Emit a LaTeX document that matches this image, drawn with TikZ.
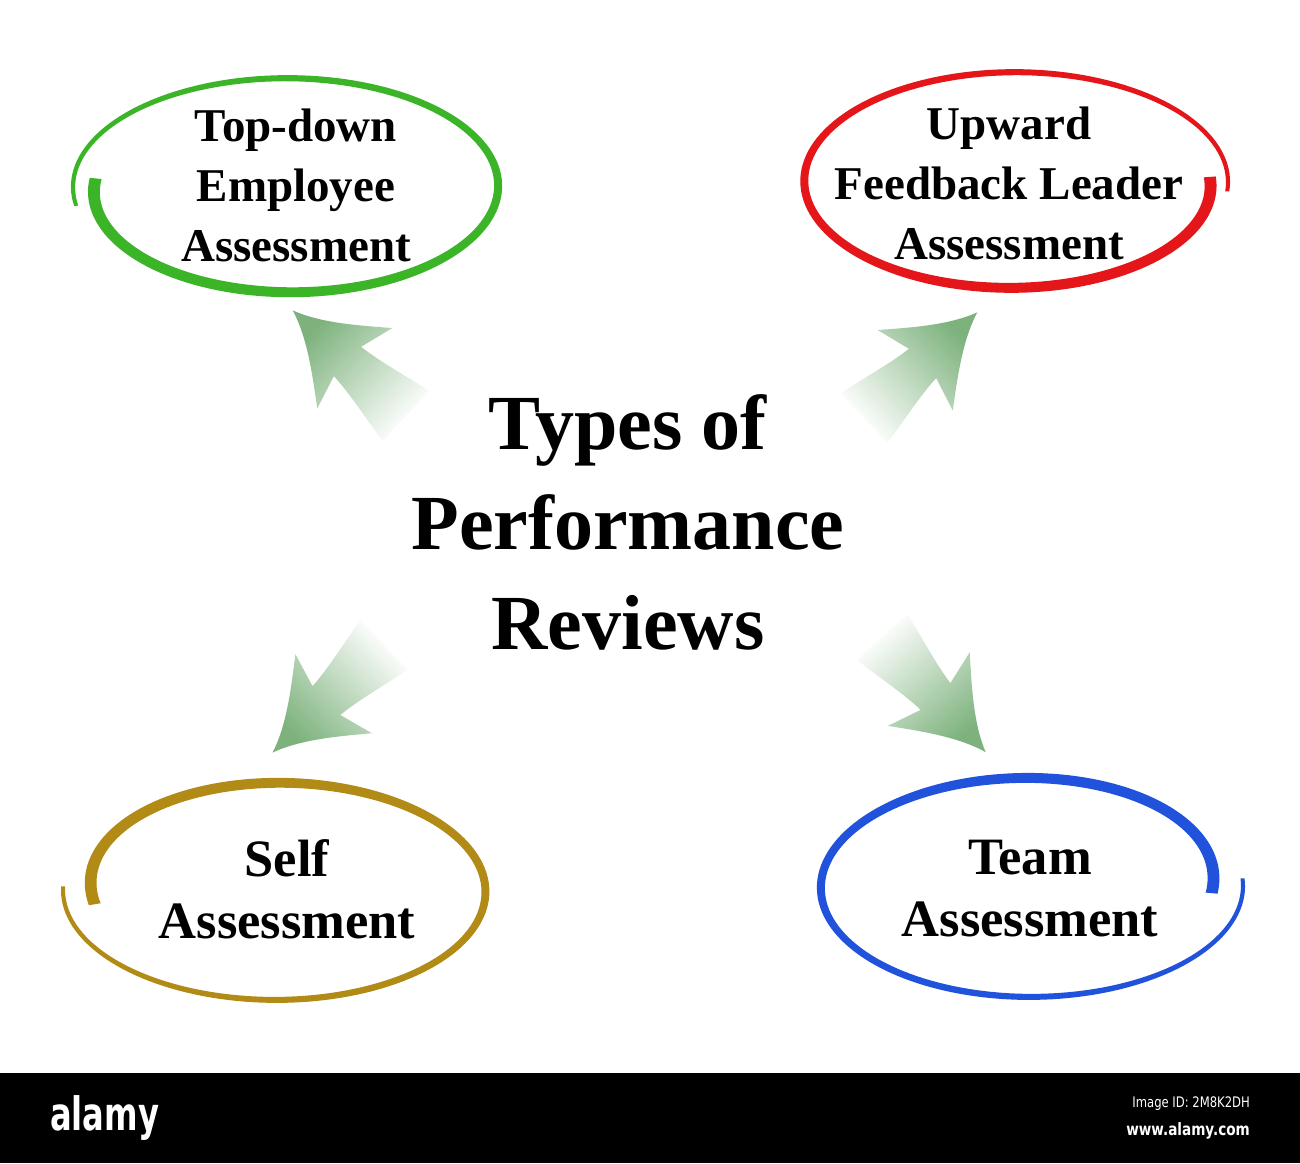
\documentclass[tikz,border=0pt]{standalone}
\usepackage{fontspec}
\setmainfont{Liberation Serif}
\newfontfamily\alamyfont[FakeStretch=0.8]{DejaVu Sans}
\newfontfamily\alamylogo[FakeStretch=0.7]{DejaVu Sans}
\usetikzlibrary{calc}

\definecolor{ringgreen}{RGB}{60,180,40}
\definecolor{ringred}{RGB}{228,22,26}
\definecolor{ringgold}{RGB}{178,138,22}
\definecolor{ringblue}{RGB}{32,82,220}
\definecolor{arrowgreen}{RGB}{125,178,125}

\tikzset{
    x=1pt, y=1pt,
    boxtext/.style={align=center, font=\bfseries\fontsize{47}{60}\selectfont},
    lowtext/.style={align=center, font=\bfseries\fontsize{52.5}{62}\selectfont},
    titletext/.style={align=center, font=\bfseries\fontsize{78}{100}\selectfont},
    wmark/.style={text=white, inner sep=0pt},
}

\newcommand\penring[8]{%
    \fill[#2, shift={(#1)}]
        plot[domain=0:1, samples=160] ({(#5-(#5-#3)*(1-\x)^3+(6-4*\x))*cos(#7+(#8)*\x)}, {(#6-(#6-#4)*(1-\x)^3+(6-4*\x))*sin(#7+(#8)*\x)})
        -- plot[domain=0:1, samples=160] ({(#5-(#5-#3)*(\x)^3-(2+4*\x))*cos(#7+(#8)-(#8)*\x)}, {(#6-(#6-#4)*(\x)^3-(2+4*\x))*sin(#7+(#8)-(#8)*\x)})
        -- cycle;}

\newcommand\fadearrow[3]{%
    \begin{scope}[shift={(#1)}, rotate=#2]
        \shade[top color=arrowgreen, middle color=arrowgreen!75, bottom color=white, shading angle=#3]
            (0,34) .. controls (25,30) and (55,22) .. (80,20) -- (70,55)
            .. controls (95,35) and (125,10) .. (155,0)
            .. controls (125,-10) and (95,-35) .. (70,-55) -- (80,-20)
            .. controls (55,-22) and (25,-30) .. (0,-34) -- cycle;
    \end{scope}}

\begin{document}
\begin{tikzpicture}
    \useasboundingbox (0,0) rectangle (1300,-1163);
    \fill[white] (0,0) rectangle (1300,-1163);

    \node[titletext] (title) at (628,-522) {Types of\\Performance\\Reviews};

    \node[boxtext] (topdown) at (296,-185) {Top-down\\Employee\\Assessment};
    \node[boxtext] (upward) at (1009,-183) {Upward\\Feedback Leader\\Assessment};
    \node[lowtext] (self) at (287,-889) {Self\\Assessment};
    \node[lowtext] (team) at (1030,-889) {Team\\Assessment};

    \penring{$(topdown)+(-9,-2)$}{ringgreen}{192}{100}{214}{109}{175}{375}
    \penring{$(upward)+(6,1)$}{ringred}{195}{100}{213}{110}{3}{-368}
    \penring{$(self)+(-11,-1)$}{ringgold}{183}{103}{213}{110}{188}{-370}
    \penring{$(team)+(0,3)$}{ringblue}{182}{104}{213}{111}{-4}{368}

    \fadearrow{406,-416}{137}{47}
    \fadearrow{864,-418}{43}{-47}
    \fadearrow{384,-645}{224}{134}
    \fadearrow{882,-637}{-48}{-138}

    \fill[black] (0,-1073) rectangle (1300,-1163);
    \node[wmark, anchor=base west, font=\alamylogo\bfseries\fontsize{46}{46}\selectfont] (logo) at (50,-1130) {alamy};
    \node[wmark, anchor=east, font=\alamyfont\fontsize{14.5}{15}\selectfont] (imageid) at (1250,-1104) {Image ID: 2M8K2DH};
    \node[wmark, anchor=east, font=\alamyfont\bfseries\fontsize{17}{18}\selectfont] (site) at (1250,-1131) {www.alamy.com};
\end{tikzpicture}
\end{document}
